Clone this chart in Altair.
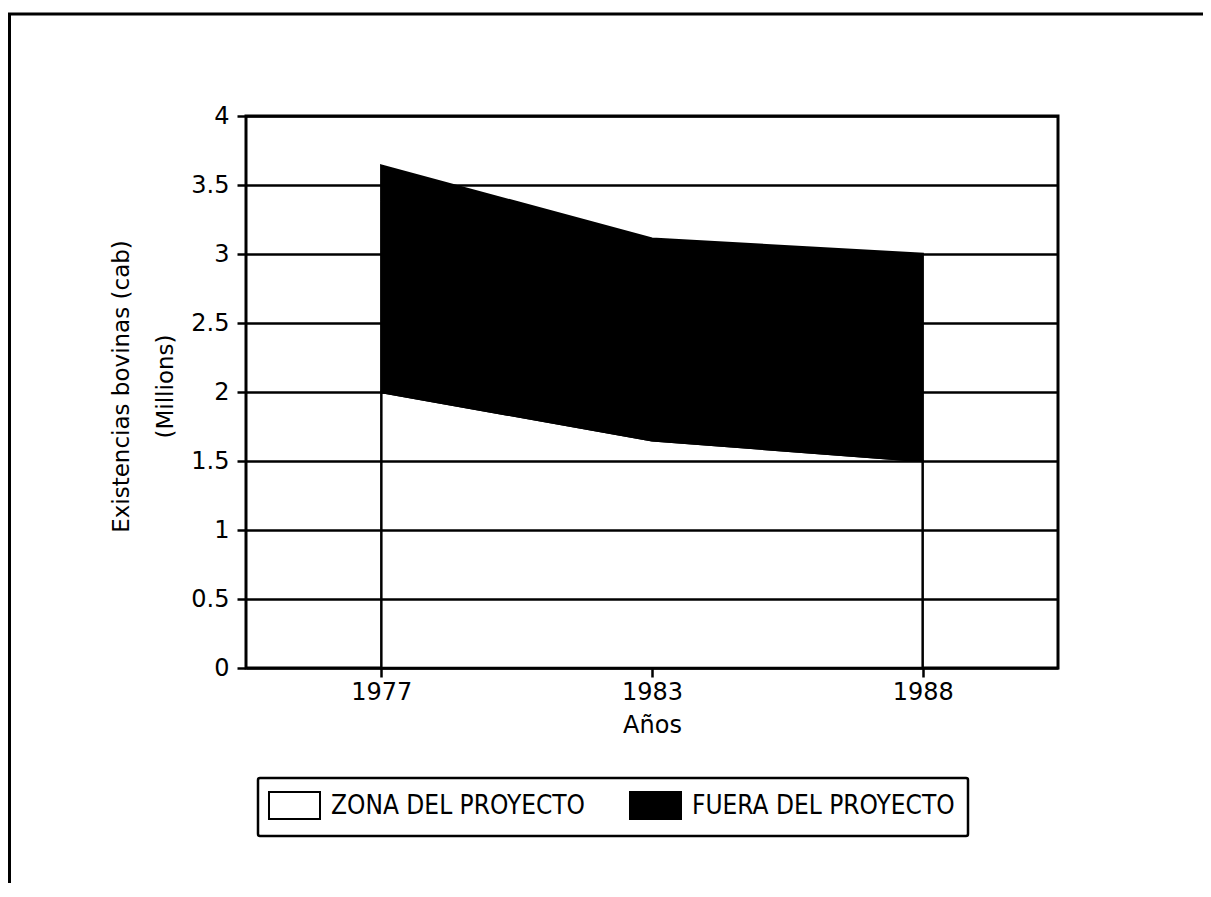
import altair as alt
import pandas as pd

# ---- data ----
years = ["1977", "1983", "1988"]
zona = [2.00, 1.65, 1.50]          # ZONA DEL PROYECTO (millions)
fuera = [1.64, 1.46, 1.50]         # FUERA DEL PROYECTO (millions, stacked on top)
series = ["ZONA DEL PROYECTO", "FUERA DEL PROYECTO"]
colors = ["white", "black"]
y_ticks = [0, 0.5, 1, 1.5, 2, 2.5, 3, 3.5, 4]

rows = []
for i, yr in enumerate(years):
    rows.append({"year": yr, "serie": series[0], "valor": zona[i], "orden": 0})
    rows.append({"year": yr, "serie": series[1], "valor": fuera[i], "orden": 1})
df = pd.DataFrame(rows)

FONT = "DejaVu Sans"
COND = "DejaVu Sans Condensed"

W, H = 812, 552

area = alt.Chart(df).mark_area(
    stroke="black", strokeWidth=2.5, fillOpacity=1, opacity=1
).encode(
    x=alt.X(
        "year:N", sort=years,
        scale=alt.Scale(type="point", padding=0.5),
        axis=alt.Axis(
            title="Años", labelAngle=0, grid=False, domain=False,
            ticks=True, tickSize=9, tickWidth=2.5, tickColor="black",
            labelFont=FONT, labelFontSize=24, labelColor="black", labelPadding=3,
            titleFont=FONT, titleFontSize=24, titleFontWeight="normal",
            titleColor="black", titlePadding=9,
        ),
    ),
    y=alt.Y(
        "valor:Q", stack="zero",
        scale=alt.Scale(domain=[0, 4], nice=False, zero=True),
        axis=alt.Axis(
            values=y_ticks, format="~g", grid=True, gridColor="black",
            gridWidth=2.5, gridOpacity=1, domain=False,
            tickSize=9, tickWidth=2.5, tickColor="black",
            labelFont=FONT, labelFontSize=24, labelColor="black", labelPadding=8,
            title=["Existencias bovinas (cab)", "(Millions)"],
            titleFont=FONT, titleFontSize=23, titleFontWeight="normal",
            titleColor="black", titleLineHeight=44,
            titleX=-113, titleY=H / 2 - 6, zindex=1,
        ),
    ),
    color=alt.Color(
        "serie:N",
        scale=alt.Scale(domain=series, range=colors),
        legend=alt.Legend(
            orient="none", legendX=12, legendY=662, direction="horizontal",
            columns=2, title=None,
            symbolType="M-1.889,-1H1.889V1H-1.889Z", symbolSize=729,
            symbolStrokeColor="black", symbolStrokeWidth=2, symbolOpacity=1,
            symbolOffset=9, labelOffset=22, columnPadding=39, labelLimit=0,
            labelFont=COND, labelFontSize=26, labelColor="black",
            padding=13, strokeColor="black", cornerRadius=2,
        ),
    ),
    order=alt.Order("orden:Q", sort="ascending"),
)

frame = alt.Chart(pd.DataFrame({"k": [0]})).mark_rect(
    fillOpacity=0, stroke="black", strokeWidth=3
).encode(
    x=alt.value(-236.5), x2=alt.value(3000),
    y=alt.value(-102), y2=alt.value(3000),
)

chart = alt.layer(frame, area).properties(
    width=W, height=H,
    autosize=alt.AutoSizeParams(type="none"),
    padding={"left": 238, "top": 108, "right": 145, "bottom": 215},
    background="white",
).configure_view(
    stroke="black", strokeWidth=3
).configure_legend(
    strokeWidth=2.5
)

chart.save("out.html", embed_options={"renderer": "svg", "actions": False})
